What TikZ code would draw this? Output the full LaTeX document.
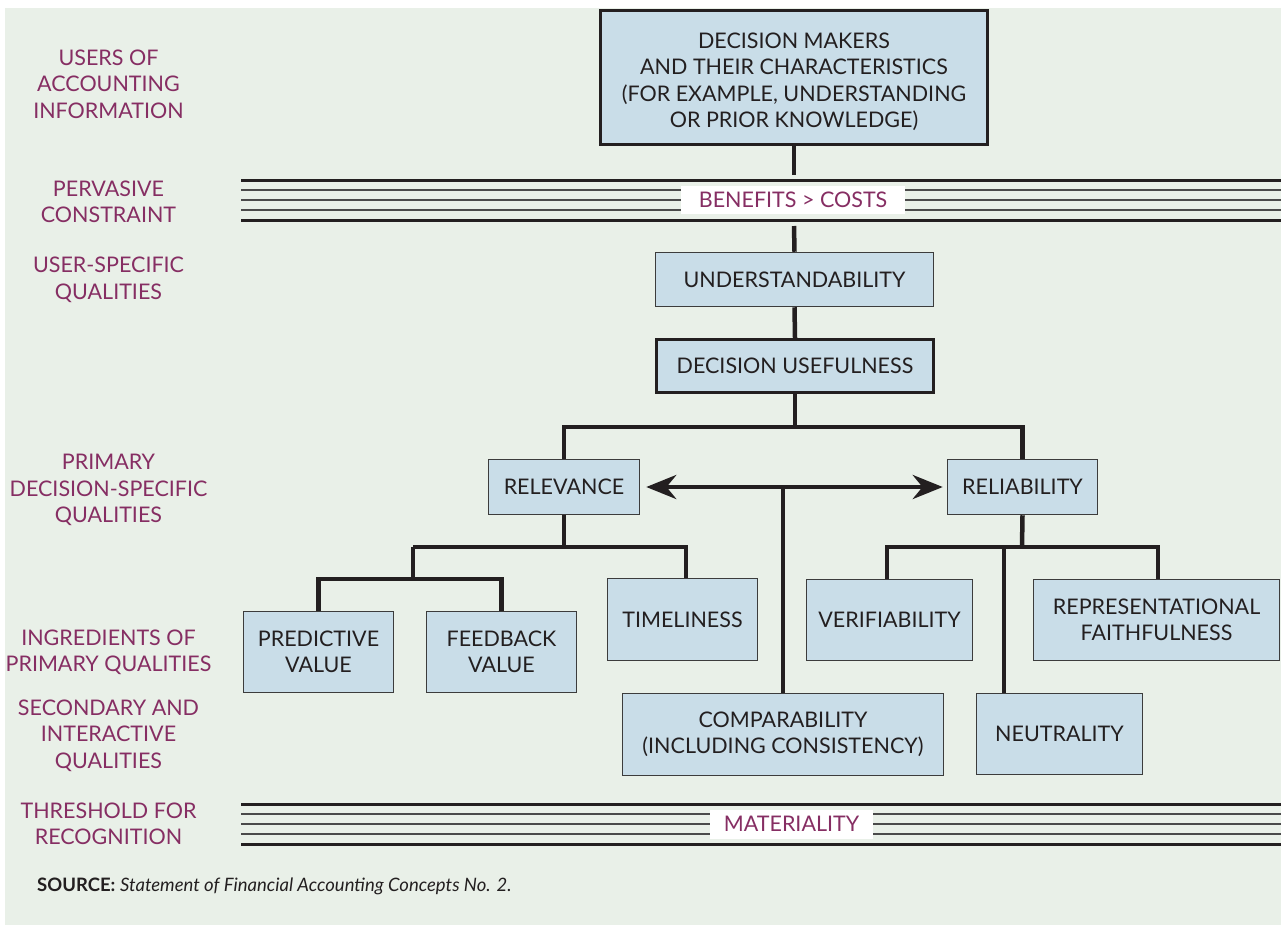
\documentclass[tikz,border=0pt]{standalone}
\usepackage{fontspec}
\setmainfont{Lato}
\usetikzlibrary{arrows.meta,calc}
\definecolor{bggreen}{HTML}{E9F0E8}
\definecolor{boxblue}{HTML}{C9DDE8}
\definecolor{purp}{HTML}{862E63}
\definecolor{ink}{HTML}{231F20}
\definecolor{edgegray}{HTML}{3C3C3C}
\definecolor{thingray}{HTML}{4A4A4A}
\begin{document}
\begin{tikzpicture}[x=1pt,y=-1pt,
  box/.style={draw=edgegray, line width=1.5pt, fill=boxblue, text=ink, inner sep=0pt, align=center, font=\fontsize{21.5}{26.5}\selectfont},
  thickbox/.style={box, line width=3pt, draw=ink},
  side/.style={text=purp, align=center, inner sep=0pt, font=\fontsize{21.5}{26.5}\selectfont},
  conn/.style={line width=4.5pt, draw=ink},
  bandthick/.style={line width=3pt, draw=ink},
  bandthin/.style={line width=1.8pt, draw=thingray},
  bandlabel/.style={fill=white, text=purp, inner sep=0pt, font=\fontsize{21.5}{26.5}\selectfont}]
\useasboundingbox (0,0) rectangle (1281,924);
\fill[white] (0,0) rectangle (1281,924);
\fill[bggreen] (5,8) rectangle (1282,925);

% side labels
\node[side] (l1) at (108.5,84) {USERS OF\\ACCOUNTING\\INFORMATION};
\node[side] (l2) at (108.5,202) {PERVASIVE\\CONSTRAINT};
\node[side] (l3) at (108.5,280) {USER-SPECIFIC\\QUALITIES};
\node[side] (l4) at (108.5,490) {PRIMARY\\DECISION-SPECIFIC\\QUALITIES};
\node[side] (l5) at (108.5,652.5) {INGREDIENTS OF\\PRIMARY QUALITIES};
\node[side] (l6) at (108.5,735.5) {SECONDARY AND\\INTERACTIVE\\QUALITIES};
\node[side] (l7) at (108.5,824) {THRESHOLD FOR\\RECOGNITION};

% bands
\foreach \yy in {180,220} \draw[bandthick] (241,\yy) -- (1281,\yy);
\foreach \yy in {190,200,210} \draw[bandthin] (241,\yy) -- (1281,\yy);
\foreach \yy in {804,844} \draw[bandthick] (241,\yy) -- (1281,\yy);
\foreach \yy in {814,824,834} \draw[bandthin] (241,\yy) -- (1281,\yy);
\node[bandlabel, minimum width=224pt, minimum height=28pt] (bc) at (793,199.5) {BENEFITS > COSTS};
\node[bandlabel, minimum width=163pt, minimum height=29pt] (mat) at (791.5,824) {MATERIALITY};

% boxes
\node[thickbox, minimum width=387pt, minimum height=134pt] (dm) at (794,77.5)
  {\rule{0pt}{24pt}DECISION MAKERS\\AND THEIR CHARACTERISTICS\\(FOR EXAMPLE, UNDERSTANDING\\OR PRIOR KNOWLEDGE)};
\node[box, minimum width=278pt, minimum height=54pt] (und) at (794.5,279.5) {UNDERSTANDABILITY};
\node[thickbox, minimum width=277pt, minimum height=53pt] (du) at (795,366) {DECISION USEFULNESS};
\node[box, minimum width=151pt, minimum height=55pt] (rel) at (564,487) {RELEVANCE};
\node[box, minimum width=150pt, minimum height=55pt] (reli) at (1022.5,487) {RELIABILITY};
\node[box, minimum width=150pt, minimum height=81pt] (pv) at (318.5,652) {PREDICTIVE\\VALUE};
\node[box, minimum width=150pt, minimum height=81pt] (fv) at (501.5,652) {FEEDBACK\\VALUE};
\node[box, minimum width=150pt, minimum height=82pt] (tim) at (682.5,619.5) {TIMELINESS};
\node[box, minimum width=166pt, minimum height=81pt] (ver) at (889.5,620) {VERIFIABILITY};
\node[box, minimum width=246pt, minimum height=81pt] (rep) at (1156.5,620) {REPRESENTATIONAL\\FAITHFULNESS};
\node[box, minimum width=321pt, minimum height=82pt] (comp) at (783,734.5) {COMPARABILITY\\(INCLUDING CONSISTENCY)};
\node[box, minimum width=166pt, minimum height=81pt] (neu) at (1059.5,734) {NEUTRALITY};

% connector coordinates
\coordinate (c1) at (794,175);
\coordinate (c2) at (794,226);
\coordinate (j1) at (795,427);
\coordinate (j2) at (564,547);
\coordinate (j3) at (413,579);
\coordinate (tx) at (686,547);
\coordinate (j4) at (1022,547);
\coordinate (vx) at (887,547);
\coordinate (nx) at (1004,547);
\coordinate (rx) at (1158,547);
\coordinate (ax) at (783,487);

% connectors
\draw[conn] (dm.south) -- (c1);
\draw[conn] (c2) -- (und.north);
\draw[conn] (und.south) -- (du.north);
\draw[conn] (du.south) -- (j1);
\draw[conn] (rel.north) -- (rel.north |- j1) -- (reli.north |- j1) -- (reli.north);
\draw[conn] (rel.south) -- (j2);
\draw[conn] (j3 |- j2) -- (tx) -- (tx |- tim.north);
\draw[conn] (j3 |- j2) -- (j3);
\draw[conn] (pv.north) -- (pv.north |- j3) -- (fv.north |- j3) -- (fv.north);
\draw[conn] (reli.south) -- (j4);
\draw[conn] (vx |- ver.north) -- (vx) -- (rx) -- (rx |- rep.north);
\draw[conn] (nx) -- (nx |- neu.north);
\draw[conn, {Stealth[length=30pt,width=24pt]}-{Stealth[length=30pt,width=24pt]}] ([xshift=6pt]rel.east) -- ([xshift=-4pt]reli.west);
\draw[conn] (ax) -- (comp.north);

% source
\node[anchor=base west, inner sep=0pt, text=ink, font=\fontsize{18.5}{22}\selectfont] (src) at (37,891)
  {\textbf{SOURCE:} \textit{Statement of Financial Accounting Concepts No. 2.}};
\end{tikzpicture}
\end{document}
